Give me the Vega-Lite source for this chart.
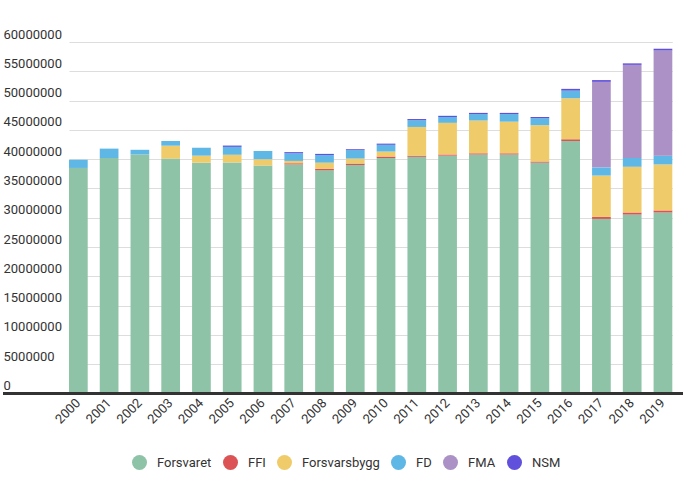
{
  "$schema": "https://vega.github.io/schema/vega-lite/v6.json",
  "width": 680,
  "height": 351.5,
  "autosize": {"type": "none"},
  "padding": {"left": 3, "top": 42, "right": 7, "bottom": 107.5},
  "background": "white",
  "config": {
    "font": "Roboto",
    "view": {"stroke": null}
  },
  "data": {
    "values": [
      {"year": "2000", "org": "Forsvaret", "value": 38500000},
      {"year": "2000", "org": "FD", "value": 1400000},
      {"year": "2001", "org": "Forsvaret", "value": 40200000},
      {"year": "2001", "org": "FD", "value": 1600000},
      {"year": "2002", "org": "Forsvaret", "value": 40800000},
      {"year": "2002", "org": "FD", "value": 800000},
      {"year": "2003", "org": "Forsvaret", "value": 40100000},
      {"year": "2003", "org": "Forsvarsbygg", "value": 2200000},
      {"year": "2003", "org": "FD", "value": 800000},
      {"year": "2004", "org": "Forsvaret", "value": 39400000},
      {"year": "2004", "org": "Forsvarsbygg", "value": 1200000},
      {"year": "2004", "org": "FD", "value": 1350000},
      {"year": "2005", "org": "Forsvaret", "value": 39450000},
      {"year": "2005", "org": "Forsvarsbygg", "value": 1300000},
      {"year": "2005", "org": "FD", "value": 1350000},
      {"year": "2005", "org": "NSM", "value": 220000},
      {"year": "2006", "org": "Forsvaret", "value": 38900000},
      {"year": "2006", "org": "Forsvarsbygg", "value": 1100000},
      {"year": "2006", "org": "FD", "value": 1400000},
      {"year": "2007", "org": "Forsvaret", "value": 39100000},
      {"year": "2007", "org": "FFI", "value": 200000},
      {"year": "2007", "org": "Forsvarsbygg", "value": 400000},
      {"year": "2007", "org": "FD", "value": 1300000},
      {"year": "2007", "org": "NSM", "value": 200000},
      {"year": "2008", "org": "Forsvaret", "value": 38100000},
      {"year": "2008", "org": "FFI", "value": 250000},
      {"year": "2008", "org": "Forsvarsbygg", "value": 1050000},
      {"year": "2008", "org": "FD", "value": 1300000},
      {"year": "2008", "org": "NSM", "value": 200000},
      {"year": "2009", "org": "Forsvaret", "value": 39000000},
      {"year": "2009", "org": "FFI", "value": 250000},
      {"year": "2009", "org": "Forsvarsbygg", "value": 850000},
      {"year": "2009", "org": "FD", "value": 1450000},
      {"year": "2009", "org": "NSM", "value": 150000},
      {"year": "2010", "org": "Forsvaret", "value": 40200000},
      {"year": "2010", "org": "FFI", "value": 250000},
      {"year": "2010", "org": "Forsvarsbygg", "value": 850000},
      {"year": "2010", "org": "FD", "value": 1150000},
      {"year": "2010", "org": "NSM", "value": 200000},
      {"year": "2011", "org": "Forsvaret", "value": 40400000},
      {"year": "2011", "org": "FFI", "value": 200000},
      {"year": "2011", "org": "Forsvarsbygg", "value": 4900000},
      {"year": "2011", "org": "FD", "value": 1150000},
      {"year": "2011", "org": "NSM", "value": 200000},
      {"year": "2012", "org": "Forsvaret", "value": 40600000},
      {"year": "2012", "org": "FFI", "value": 200000},
      {"year": "2012", "org": "Forsvarsbygg", "value": 5400000},
      {"year": "2012", "org": "FD", "value": 1000000},
      {"year": "2012", "org": "NSM", "value": 200000},
      {"year": "2013", "org": "Forsvaret", "value": 40800000},
      {"year": "2013", "org": "FFI", "value": 200000},
      {"year": "2013", "org": "Forsvarsbygg", "value": 5600000},
      {"year": "2013", "org": "FD", "value": 1100000},
      {"year": "2013", "org": "NSM", "value": 200000},
      {"year": "2014", "org": "Forsvaret", "value": 40800000},
      {"year": "2014", "org": "FFI", "value": 200000},
      {"year": "2014", "org": "Forsvarsbygg", "value": 5400000},
      {"year": "2014", "org": "FD", "value": 1300000},
      {"year": "2014", "org": "NSM", "value": 200000},
      {"year": "2015", "org": "Forsvaret", "value": 39400000},
      {"year": "2015", "org": "FFI", "value": 200000},
      {"year": "2015", "org": "Forsvarsbygg", "value": 6200000},
      {"year": "2015", "org": "FD", "value": 1200000},
      {"year": "2015", "org": "NSM", "value": 200000},
      {"year": "2016", "org": "Forsvaret", "value": 43100000},
      {"year": "2016", "org": "FFI", "value": 300000},
      {"year": "2016", "org": "Forsvarsbygg", "value": 7000000},
      {"year": "2016", "org": "FD", "value": 1300000},
      {"year": "2016", "org": "NSM", "value": 300000},
      {"year": "2017", "org": "Forsvaret", "value": 29800000},
      {"year": "2017", "org": "FFI", "value": 350000},
      {"year": "2017", "org": "Forsvarsbygg", "value": 7050000},
      {"year": "2017", "org": "FD", "value": 1400000},
      {"year": "2017", "org": "FMA", "value": 14600000},
      {"year": "2017", "org": "NSM", "value": 300000},
      {"year": "2018", "org": "Forsvaret", "value": 30550000},
      {"year": "2018", "org": "FFI", "value": 350000},
      {"year": "2018", "org": "Forsvarsbygg", "value": 7800000},
      {"year": "2018", "org": "FD", "value": 1500000},
      {"year": "2018", "org": "FMA", "value": 15900000},
      {"year": "2018", "org": "NSM", "value": 250000},
      {"year": "2019", "org": "Forsvaret", "value": 30900000},
      {"year": "2019", "org": "FFI", "value": 350000},
      {"year": "2019", "org": "Forsvarsbygg", "value": 7850000},
      {"year": "2019", "org": "FD", "value": 1500000},
      {"year": "2019", "org": "FMA", "value": 17950000},
      {"year": "2019", "org": "NSM", "value": 300000}
    ]
  },
  "transform": [
    {
      "lookup": "org",
      "from": {
        "data": {
          "values": [
            {"org": "Forsvaret", "rank": 1},
            {"org": "FFI", "rank": 2},
            {"org": "Forsvarsbygg", "rank": 3},
            {"org": "FD", "rank": 4},
            {"org": "FMA", "rank": 5},
            {"org": "NSM", "rank": 6}
          ]
        },
        "key": "org",
        "fields": ["rank"]
      }
    }
  ],
  "layer": [
    {
      "mark": {"type": "bar"},
      "encoding": {
        "x": {
          "field": "year",
          "type": "ordinal",
          "title": null,
          "scale": {"paddingInner": 0.392, "paddingOuter": 0, "range": [66, 669.3]},
          "axis": {
            "labelAngle": -45,
            "labelAlign": "right",
            "labelBaseline": "middle",
            "labelFont": "Roboto",
            "labelFontSize": 13,
            "labelColor": "#333333",
            "labelPadding": 7,
            "ticks": false,
            "tickSize": 0,
            "domain": false,
            "grid": false
          }
        },
        "y": {
          "field": "value",
          "type": "quantitative",
          "title": null,
          "stack": "zero",
          "scale": {"domain": [0, 60000000], "nice": false},
          "axis": {
            "values": [0, 5000000, 10000000, 15000000, 20000000, 25000000, 30000000, 35000000, 40000000, 45000000, 50000000, 55000000, 60000000],
            "format": "d",
            "domain": false,
            "ticks": false,
            "tickSize": 0,
            "labelPadding": 0,
            "labelAlign": "left",
            "labelBaseline": "alphabetic",
            "labelOffset": -4,
            "labelFont": "Roboto",
            "labelFontSize": 13,
            "labelColor": "#333333",
            "labelOverlap": false,
            "grid": true,
            "gridColor": "#dddddd",
            "gridWidth": 1
          }
        },
        "color": {
          "field": "org",
          "type": "nominal",
          "sort": ["Forsvaret", "FFI", "Forsvarsbygg", "FD", "FMA", "NSM"],
          "scale": {
            "domain": ["Forsvaret", "FFI", "Forsvarsbygg", "FD", "FMA", "NSM"],
            "range": ["#8EC3A7", "#DC5356", "#F0CB69", "#5FB7E5", "#AB91C5", "#6050DC"]
          },
          "legend": {
            "title": null,
            "orient": "none",
            "direction": "horizontal",
            "legendX": 129,
            "legendY": 413,
            "padding": 0,
            "symbolType": "circle",
            "symbolSize": 225,
            "symbolStrokeWidth": 0,
            "symbolOpacity": 1,
            "labelFont": "Roboto",
            "labelFontSize": 13,
            "labelColor": "#333333",
            "labelOffset": 10,
            "columnPadding": 11
          }
        },
        "order": {"field": "rank", "type": "quantitative", "sort": "ascending"}
      }
    },
    {
      "mark": {"type": "rule", "color": "#333333", "strokeWidth": 2},
      "encoding": {
        "y": {
          "datum": 0,
          "type": "quantitative",
          "axis": {
            "values": [0, 5000000, 10000000, 15000000, 20000000, 25000000, 30000000, 35000000, 40000000, 45000000, 50000000, 55000000, 60000000],
            "format": "d",
            "domain": false,
            "ticks": false,
            "tickSize": 0,
            "labelPadding": 0,
            "labelAlign": "left",
            "labelBaseline": "alphabetic",
            "labelOffset": -4,
            "labelFont": "Roboto",
            "labelFontSize": 13,
            "labelColor": "#333333",
            "labelOverlap": false,
            "grid": true,
            "gridColor": "#dddddd",
            "gridWidth": 1
          }
        }
      }
    }
  ]
}
